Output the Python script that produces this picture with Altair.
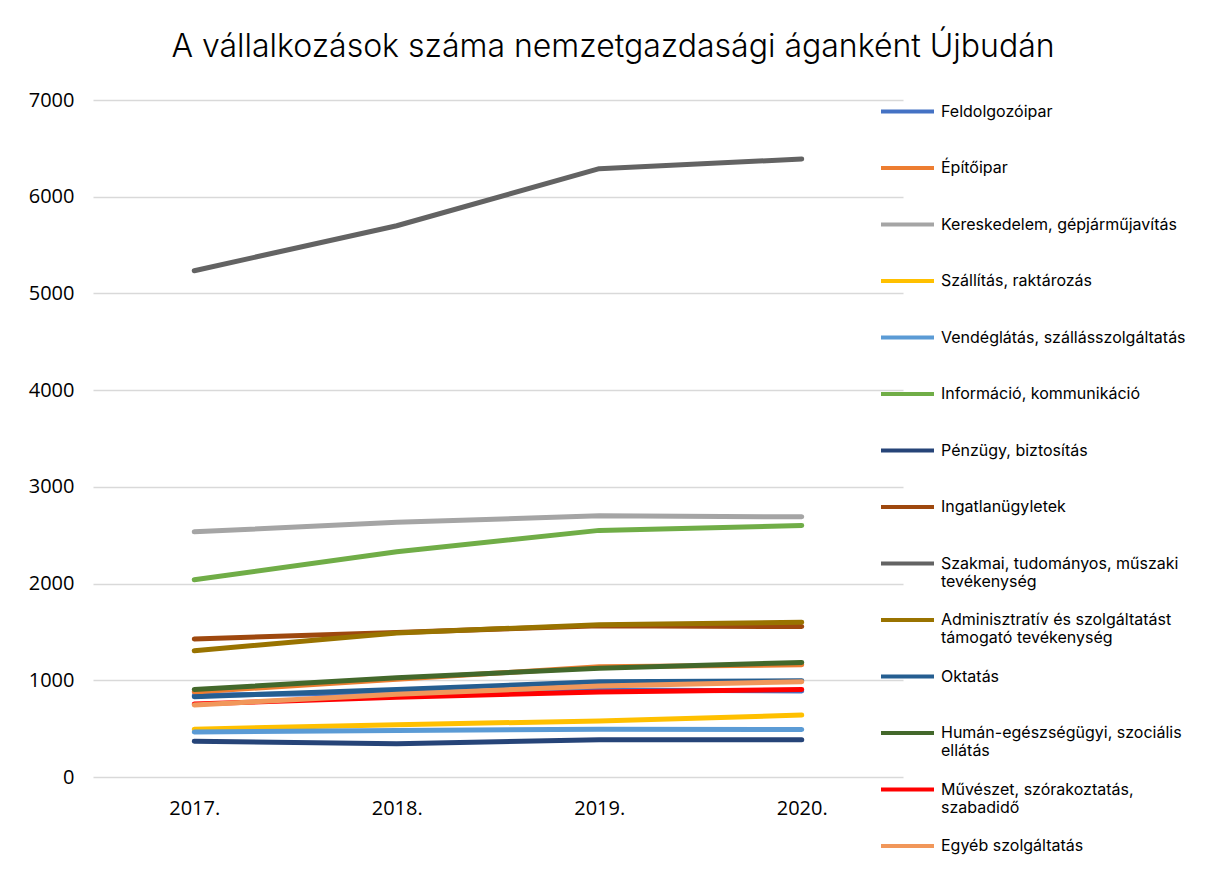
import altair as alt
import pandas as pd

years = ["2017.", "2018.", "2019.", "2020."]

series = [
    "Feldolgozóipar",
    "Építőipar",
    "Kereskedelem, gépjárműjavítás",
    "Szállítás, raktározás",
    "Vendéglátás, szállásszolgáltatás",
    "Információ, kommunikáció",
    "Pénzügy, biztosítás",
    "Ingatlanügyletek",
    "Szakmai, tudományos, műszaki tevékenység",
    "Adminisztratív és szolgáltatást támogató tevékenység",
    "Oktatás",
    "Humán-egészségügyi, szociális ellátás",
    "Művészet, szórakoztatás, szabadidő",
    "Egyéb szolgáltatás",
]

feldolgozoipar = [845, 870, 900, 890]
epitoipar = [880, 1010, 1140, 1160]
kereskedelem = [2535, 2635, 2700, 2690]
szallitas = [495, 540, 580, 640]
vendeglatas = [465, 480, 495, 490]
informacio = [2040, 2330, 2550, 2600]
penzugy = [370, 345, 385, 385]
ingatlan = [1427, 1495, 1565, 1555]
szakmai = [5235, 5700, 6290, 6390]
adminisztrativ = [1305, 1490, 1575, 1600]
oktatas = [830, 905, 985, 995]
human = [905, 1025, 1125, 1185]
muveszet = [755, 825, 880, 905]
egyeb = [745, 855, 940, 985]

values = [
    feldolgozoipar, epitoipar, kereskedelem, szallitas, vendeglatas,
    informacio, penzugy, ingatlan, szakmai, adminisztrativ, oktatas,
    human, muveszet, egyeb,
]

colors = [
    "#4472C4", "#ED7D31", "#A5A5A5", "#FFC000", "#5B9BD5", "#70AD47",
    "#264478", "#9E480E", "#636363", "#997300", "#255E91", "#43682B",
    "#FF0000", "#F1975A",
]

# legend label line breaks
label_lines = {
    "Szakmai, tudományos, műszaki tevékenység": ["Szakmai, tudományos, műszaki", "tevékenység"],
    "Adminisztratív és szolgáltatást támogató tevékenység": ["Adminisztratív és szolgáltatást", "támogató tevékenység"],
    "Humán-egészségügyi, szociális ellátás": ["Humán-egészségügyi, szociális", "ellátás"],
    "Művészet, szórakoztatás, szabadidő": ["Művészet, szórakoztatás,", "szabadidő"],
}

rows = []
for s_i, (name, vals) in enumerate(zip(series, values)):
    for yr, v in zip(years, vals):
        rows.append({"Ágazat": name, "Év": yr, "Darab": v, "idx": s_i})
df = pd.DataFrame(rows)

expr_parts = []
for k, v in label_lines.items():
    expr_parts.append(f"datum.label === '{k}' ? ['{v[0]}', '{v[1]}'] : ")
label_expr = "".join(expr_parts) + "[datum.label, ' ']"

axis_font = "Open Sans"
legend_font = "Inter"

chart = alt.Chart(df).mark_line(strokeWidth=5, strokeCap="round", strokeJoin="round").encode(
    x=alt.X("Év:N", sort=years, title=None,
            axis=alt.Axis(labelAngle=0, labelFontSize=20, labelColor="#000000",
                          labelFont=axis_font, domain=False, ticks=False, labelPadding=21)),
    y=alt.Y("Darab:Q", title=None,
            scale=alt.Scale(domain=[0, 7000], nice=False),
            axis=alt.Axis(values=[0, 1000, 2000, 3000, 4000, 5000, 6000, 7000],
                          format="d",
                          labelFontSize=20, labelColor="#000000", labelFont=axis_font,
                          domain=False, ticks=False, labelPadding=19,
                          gridColor="#D9D9D9", gridWidth=1.3)),
    color=alt.Color("Ágazat:N", sort=series,
                    scale=alt.Scale(domain=series, range=colors),
                    legend=alt.Legend(
                        title=None, orient="none", legendX=786, legendY=-17,
                        symbolType="stroke", symbolStrokeWidth=4, symbolSize=2809,
                        labelExpr=label_expr, labelFontSize=16, labelFont=legend_font,
                        labelColor="#000000", labelBaseline="middle", labelOffset=5,
                        labelLimit=400, rowPadding=1.5, direction="vertical",
                    )),
    order=alt.Order("idx:Q"),
    detail="Ágazat:N",
).properties(
    width=810,
    height=677,
    title=alt.TitleParams(
        "A vállalkozások száma nemzetgazdasági áganként Újbudán",
        fontSize=32, font=legend_font, fontWeight=300, color="#000000",
        anchor="middle", dx=115, offset=19,
    ),
    autosize="none",
    background="#FFFFFF",
    padding={"left": 85, "top": 92, "right": 309, "bottom": 107},
).configure_view(stroke=None)

chart.save("out.html", embed_options={"renderer": "svg", "actions": False})
